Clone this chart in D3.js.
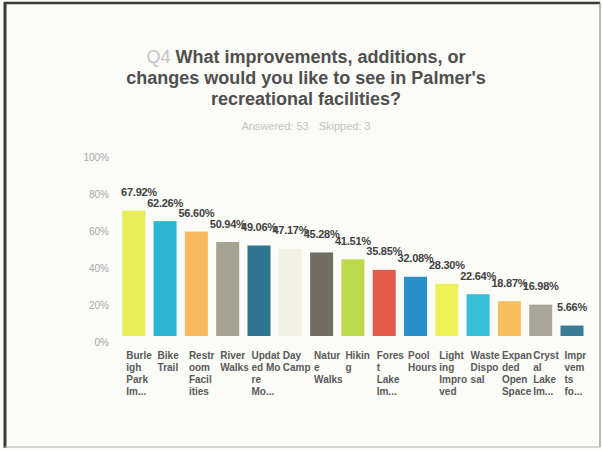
<!DOCTYPE html>
<html>
<head>
<meta charset="utf-8">
<script src="https://cdn.jsdelivr.net/npm/d3@7/dist/d3.min.js"></script>
<style>
  html, body { margin: 0; padding: 0; background: #fbfbf8; }
  svg { display: block; }
  text { font-family: "Liberation Sans", Arial, Helvetica, sans-serif; }
</style>
</head>
<body>
<svg id="chart" width="602" height="450"></svg>
<script>
// ---- data ----
const categories = [
  ["Burle", "igh", "Park", "Im..."],
  ["Bike", "Trail"],
  ["Restr", "oom", "Facil", "ities"],
  ["River", "Walks"],
  ["Updat", "ed Mo", "re", "Mo..."],
  ["Day", "Camp"],
  ["Natur", "e", "Walks"],
  ["Hikin", "g"],
  ["Fores", "t", "Lake", "Im..."],
  ["Pool", "Hours"],
  ["Light", "ing", "Impro", "ved"],
  ["Waste", "Dispo", "sal"],
  ["Expan", "ded", "Open", "Space"],
  ["Cryst", "al", "Lake", "Im..."],
  ["Impr", "vem", "ts", "fo..."]
];
const values = [67.92, 62.26, 56.60, 50.94, 49.06, 47.17, 45.28, 41.51, 35.85, 32.08, 28.30, 22.64, 18.87, 16.98, 5.66];
const yTicks = [0, 20, 40, 60, 80, 100];
const colors = ["#e7ee55", "#2db6d2", "#f8b95d", "#a5a291", "#2e7592", "#f3f1e4", "#716d61", "#bcd94b",
                "#e45a4b", "#2891c9", "#eef157", "#35bfd8", "#f9bf5f", "#aaa697", "#3a7b97"];
const titleQ = "Q4";
const titleLines = ["What improvements, additions, or", "changes would you like to see in Palmer's", "recreational facilities?"];
const answered = "Answered: 53";
const skipped = "Skipped: 3";

// ---- layout ----
const svg = d3.select("#chart");
const W = 602, H = 450;

svg.append("rect").attr("width", W).attr("height", H).attr("fill", "#fbfbf8");

// frame
svg.append("line").attr("x1", 5).attr("x2", 5).attr("y1", 2).attr("y2", 448).attr("stroke", "#3a3a3a").attr("stroke-width", 3);
svg.append("line").attr("x1", 4).attr("x2", 600).attr("y1", 3).attr("y2", 3).attr("stroke", "#3a3a3a").attr("stroke-width", 2.5);
svg.append("line").attr("x1", 600).attr("x2", 600).attr("y1", 3).attr("y2", 447).attr("stroke", "#8a8a8a").attr("stroke-width", 1.2);
svg.append("line").attr("x1", 4).attr("x2", 600).attr("y1", 447).attr("y2", 447).attr("stroke", "#b0b0b0").attr("stroke-width", 1);

// title
const cx = 306;
const t = svg.append("text").attr("x", cx).attr("y", 63).attr("text-anchor", "middle")
  .attr("font-size", 18).attr("font-weight", "bold").attr("fill", "#4f4f4f");
t.append("tspan").attr("fill", "#c4c4c4").attr("font-weight", "normal").text(titleQ + " ");
t.append("tspan").text(titleLines[0]);
titleLines.slice(1).forEach((l, i) => {
  svg.append("text").attr("x", cx).attr("y", 84 + i * 21.3).attr("text-anchor", "middle")
    .attr("font-size", 18).attr("font-weight", "bold").attr("fill", "#4f4f4f").text(l);
});
const sub = svg.append("text").attr("x", cx).attr("y", 130).attr("text-anchor", "middle")
  .attr("font-size", 11).attr("fill", "#c2c2c2");
sub.append("tspan").text(answered);
sub.append("tspan").attr("dx", 10).text(skipped);

// scales
const x = d3.scaleBand().domain(d3.range(values.length)).range([114, 591.8]).paddingInner(0.265).paddingOuter(0.265);
const y = d3.scaleLinear().domain([0, 100]).range([336, 151.5]);

// y axis labels
const yAxis = d3.axisLeft(y).tickValues(yTicks).tickFormat(d => d + "%").tickSize(0).tickPadding(0);
const ya = svg.append("g").attr("transform", "translate(109,0)").call(yAxis);
ya.select(".domain").remove();
ya.selectAll("text").attr("font-size", 10).attr("fill", "#a8a8a8").attr("dy", "0.9em")
  .attr("font-family", "'Liberation Sans', Arial, sans-serif");

// bars
svg.append("g").selectAll("rect").data(values).join("rect")
  .attr("x", (d, i) => x(i)).attr("width", x.bandwidth())
  .attr("y", d => y(d)).attr("height", d => y(0) - y(d))
  .attr("fill", (d, i) => colors[i]);

// value labels
svg.append("g").selectAll("text").data(values).join("text")
  .attr("x", (d, i) => Math.max(x(i) + x.bandwidth() / 2, 139))
  .attr("y", d => y(d) - 14.5)
  .attr("text-anchor", "middle").attr("font-size", 11).attr("font-weight", "bold")
  .attr("letter-spacing", -0.25)
  .attr("fill", "#414141")
  .text(d => d.toFixed(2) + "%");

// category labels
const cg = svg.append("g").selectAll("text").data(categories).join("text")
  .attr("x", (d, i) => x(i) + 4).attr("y", 358.5)
  .attr("font-size", 10).attr("font-weight", "bold").attr("fill", "#5a5a5a");
cg.selectAll("tspan").data((d, i) => d.map(s => ({ s, i }))).join("tspan")
  .attr("x", d => x(d.i) + 4).attr("dy", (d, j) => j === 0 ? 0 : 12.3)
  .text(d => d.s);
</script>
</body>
</html>
